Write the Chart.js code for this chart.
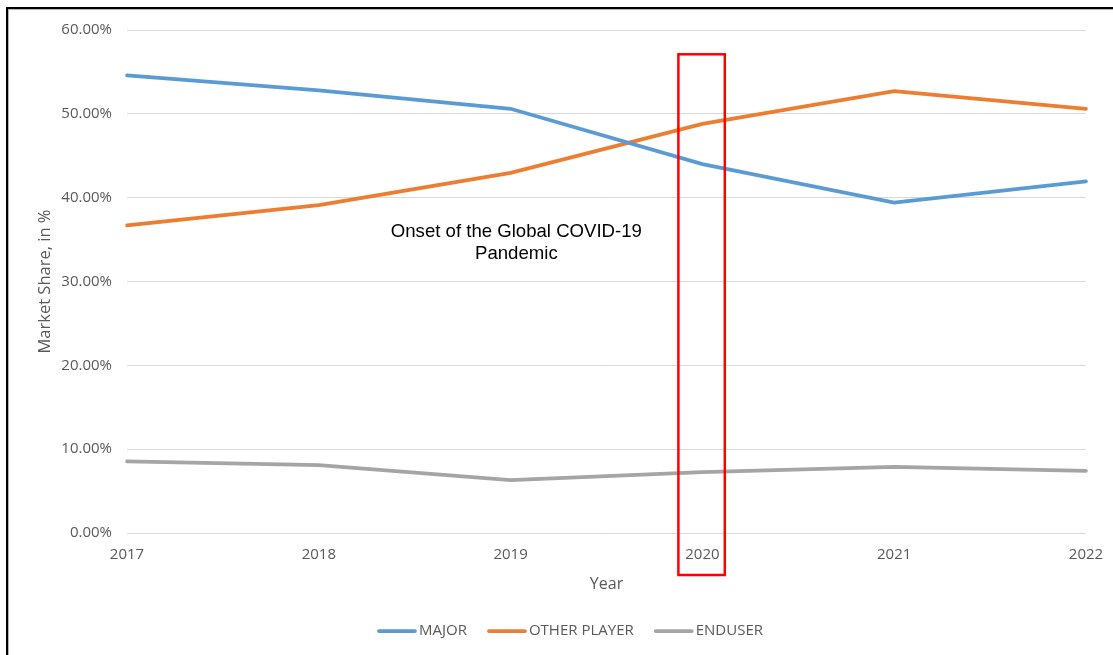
<!DOCTYPE html>
<html>
<head>
<meta charset="utf-8">
<script src="https://cdn.jsdelivr.net/npm/chart.js@4"></script>
<style>
  html, body { margin: 0; padding: 0; background: #fff; }
  #wrap { position: relative; width: 1113px; height: 655px; overflow: hidden; }
  #frameOuter { position: absolute; left: 6px; top: 7px; right: -10px; bottom: -10px;
    border-left: 2px solid #000; border-top: 2px solid #000; }
  #frameInner { position: absolute; left: 8px; top: 9px; right: -10px; bottom: -10px;
    border-left: 1px solid #b5b5b5; border-top: 1px solid #b5b5b5; }
  canvas { position: absolute; left: 0; top: 0; }
</style>
</head>
<body>
<div id="wrap">
  <div id="frameOuter"></div>
  <div id="frameInner"></div>
  <canvas id="c" width="1113" height="655"></canvas>
</div>
<script>
const years = ['2017', '2018', '2019', '2020', '2021', '2022'];
const major = [54.6, 52.8, 50.6, 44.0, 39.4, 41.95];
const otherPlayer = [36.7, 39.1, 42.95, 48.8, 52.7, 50.6];
const endUser = [8.55, 8.1, 6.3, 7.25, 7.9, 7.4];
const yTicks = [0, 10, 20, 30, 40, 50, 60];
const annotationLines = ['Onset of the Global COVID-19', 'Pandemic'];
const highlightYear = '2020';

const tickFont = { family: '"Open Sans", sans-serif', size: 15 };
const grey = '#595959';

const overlay = {
  id: 'overlay',
  afterDraw(chart) {
    const { ctx, scales: { x, y }, chartArea } = chart;
    const xc = x.getPixelForValue(years.indexOf(highlightYear));
    ctx.save();
    // highlight box around 2020
    ctx.strokeStyle = '#ff0000';
    ctx.lineWidth = 2.5;
    const top = y.getPixelForValue(57.1);
    const bottom = chartArea.bottom + 42;
    ctx.strokeRect(xc - 24, top, 46.4, bottom - top);
    // annotation text
    ctx.fillStyle = '#000';
    ctx.font = '18.6px "Liberation Sans", Arial, sans-serif';
    ctx.textAlign = 'center';
    ctx.textBaseline = 'alphabetic';
    const tx = x.getPixelForValue(2.03);
    const ty = y.getPixelForValue(34.7);
    ctx.fillText(annotationLines[0], tx, ty - 5);
    ctx.fillText(annotationLines[1], tx, ty + 17);
    // legend
    ctx.font = '15px "Open Sans", sans-serif';
    ctx.textBaseline = 'middle';
    ctx.textAlign = 'left';
    let lx = 378;
    const ly = 631;
    chart.data.datasets.forEach(ds => {
      ctx.strokeStyle = ds.borderColor;
      ctx.lineWidth = 3.75;
      ctx.lineCap = 'round';
      ctx.beginPath();
      ctx.moveTo(lx + 1, ly);
      ctx.lineTo(lx + 37, ly);
      ctx.stroke();
      ctx.fillStyle = grey;
      ctx.fillText(ds.label, lx + 41, ly);
      lx += 41 + ctx.measureText(ds.label).width + 21;
    });
    ctx.restore();
  }
};

new Chart(document.getElementById('c'), {
  type: 'line',
  data: {
    labels: years,
    datasets: [
      { label: 'MAJOR', data: major, borderColor: '#5B9BD5', backgroundColor: '#5B9BD5' },
      { label: 'OTHER PLAYER', data: otherPlayer, borderColor: '#ED7D31', backgroundColor: '#ED7D31' },
      { label: 'ENDUSER', data: endUser, borderColor: '#A5A5A5', backgroundColor: '#A5A5A5' }
    ]
  },
  options: {
    responsive: false,
    animation: false,
    devicePixelRatio: 1,
    layout: { padding: { top: 30, right: 27, bottom: 41, left: 0 } },
    elements: {
      line: { borderWidth: 3.75, tension: 0, borderCapStyle: 'round' },
      point: { radius: 0, hoverRadius: 0 }
    },
    plugins: {
      legend: { display: false },
      tooltip: { enabled: false }
    },
    scales: {
      x: {
        offset: false,
        grid: { display: false },
        border: { display: false },
        ticks: { color: grey, font: tickFont, padding: 5, maxRotation: 0 },
        title: { display: true, text: 'Year', color: grey,
          font: { family: '"Open Sans", sans-serif', size: 16 },
          padding: { top: 0, bottom: 20 } },
        afterFit(s) { s.height = 81; }
      },
      y: {
        min: 0, max: 60,
        afterBuildTicks(s) { s.ticks = yTicks.map(v => ({ value: v })); },
        grid: { color: '#d9d9d9', lineWidth: 1, drawTicks: false },
        border: { display: false },
        ticks: { color: grey, font: tickFont, padding: 15,
          callback: v => v.toFixed(2) + '%' },
        title: { display: true, text: 'Market Share, in %', color: grey,
          font: { family: '"Open Sans", sans-serif', size: 16.5 },
          padding: { top: 35, bottom: 0 } },
        afterFit(s) { s.width = 127; }
      }
    }
  },
  plugins: [overlay]
});
</script>
</body>
</html>
